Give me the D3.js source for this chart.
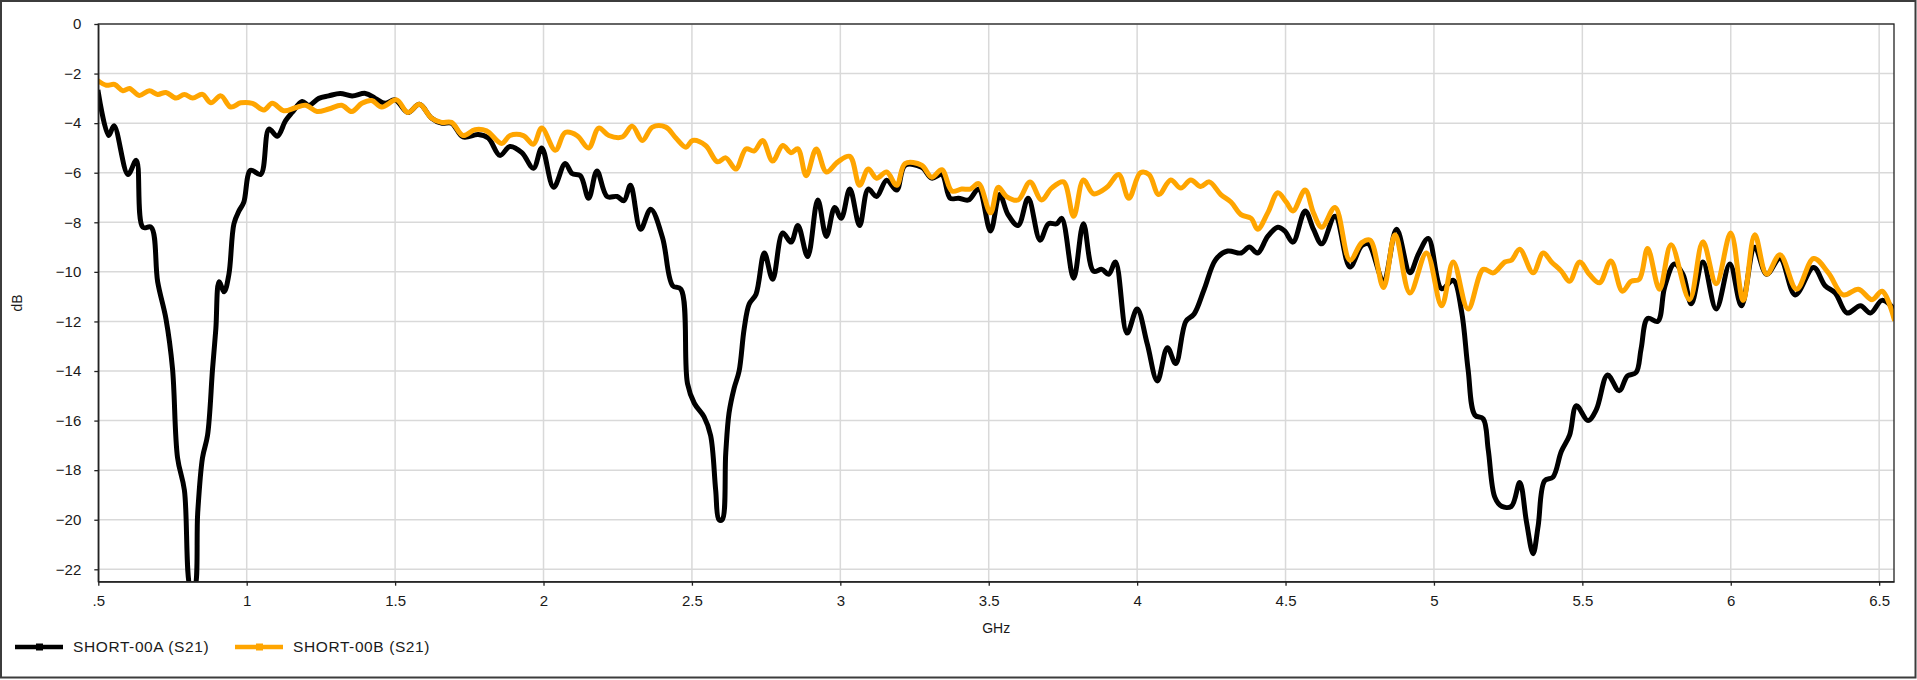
<!DOCTYPE html>
<html><head><meta charset="utf-8">
<script src="https://cdn.jsdelivr.net/npm/d3@7"></script>
<style>
html,body{margin:0;padding:0;background:#fff;}
svg{display:block;font-family:"Liberation Sans",Arial,sans-serif;}
</style></head>
<body>
<svg id="chart" width="1917" height="680"></svg>
<script>
// ---- data ----
const seriesNames = ["SHORT-00A (S21)", "SHORT-00B (S21)"];
const seriesColors = ["#000000", "#FFA500"];
const xTickValues = [0.5,1,1.5,2,2.5,3,3.5,4,4.5,5,5.5,6,6.5];
const xTickLabels = [".5","1","1.5","2","2.5","3","3.5","4","4.5","5","5.5","6","6.5"];
const yTickValues = [0,-2,-4,-6,-8,-10,-12,-14,-16,-18,-20,-22];
const xTitle = "GHz";
const yTitle = "dB";

const freqA = [0.5,0.535,0.553,0.6,0.628,0.65,0.678,0.70,0.728,0.75,0.767,0.79,0.812,0.823,0.835,0.851,0.868,0.885,0.896,0.907,0.924,0.94,0.957,0.974,0.99,1.013,1.047,1.075,1.103,1.131,1.153,1.187,1.209,1.243,1.276,1.315,1.355,1.4,1.433,1.466,1.5,1.543,1.582,1.622,1.656,1.69,1.729,1.78,1.814,1.853,1.887,1.927,1.966,1.994,2.034,2.073,2.096,2.124,2.152,2.18,2.214,2.248,2.271,2.293,2.327,2.361,2.401,2.435,2.463,2.485,2.508,2.541,2.563,2.58,2.591,2.602,2.614,2.625,2.642,2.659,2.676,2.693,2.716,2.744,2.772,2.806,2.834,2.857,2.89,2.924,2.953,2.981,3.003,3.032,3.065,3.094,3.122,3.156,3.19,3.218,3.274,3.308,3.342,3.37,3.398,3.432,3.466,3.506,3.537,3.565,3.599,3.633,3.673,3.701,3.729,3.746,3.786,3.819,3.853,3.881,3.904,3.927,3.966,4.0,4.034,4.068,4.102,4.13,4.164,4.192,4.226,4.265,4.305,4.35,4.378,4.406,4.44,4.474,4.497,4.525,4.566,4.594,4.622,4.667,4.717,4.757,4.779,4.83,4.874,4.919,4.947,4.981,5.026,5.065,5.093,5.115,5.138,5.166,5.183,5.205,5.228,5.261,5.289,5.312,5.334,5.351,5.373,5.401,5.429,5.457,5.48,5.519,5.547,5.585,5.624,5.652,5.681,5.698,5.72,5.754,5.777,5.81,5.839,5.867,5.906,5.951,5.997,6.036,6.081,6.121,6.166,6.217,6.279,6.318,6.352,6.392,6.437,6.471,6.51,6.55];
const dbA = [-2.76,-4.5,-4.1,-6.07,-5.5,-8.2,-8.2,-10.4,-11.9,-13.9,-17.5,-18.8,-22.8,-22.8,-19.7,-17.5,-16.6,-13.9,-12.3,-10.4,-10.8,-10.1,-8.06,-7.54,-7.2,-5.9,-6.07,-4.24,-4.53,-3.9,-3.57,-3.13,-3.28,-3.0,-2.9,-2.8,-2.9,-2.8,-3.0,-3.2,-3.06,-3.57,-3.24,-3.79,-4.0,-4.0,-4.56,-4.46,-4.6,-5.3,-4.94,-5.19,-5.82,-5.0,-6.59,-5.63,-6.03,-6.12,-7.03,-5.93,-6.96,-6.96,-7.13,-6.51,-8.28,-7.47,-8.62,-10.56,-10.7,-14.5,-15.3,-15.85,-16.6,-18.8,-20.0,-20.0,-17.3,-15.7,-14.7,-14.0,-12.3,-11.3,-10.9,-9.24,-10.3,-8.43,-8.8,-8.13,-9.38,-7.1,-8.57,-7.4,-7.84,-6.66,-8.13,-6.66,-6.96,-6.3,-6.7,-5.7,-5.78,-6.22,-6.07,-7.03,-7.03,-7.1,-6.66,-8.35,-6.88,-7.69,-8.13,-7.03,-8.72,-8.06,-8.06,-7.84,-10.26,-8.06,-9.97,-9.9,-10.1,-9.6,-12.47,-11.5,-12.9,-14.4,-13.06,-13.7,-12.0,-11.7,-10.7,-9.5,-9.16,-9.24,-9.0,-9.24,-8.57,-8.2,-8.35,-8.8,-7.54,-8.28,-8.87,-7.76,-9.8,-8.94,-8.87,-10.34,-8.28,-10.04,-9.3,-8.65,-10.68,-10.34,-11.59,-13.94,-15.78,-15.93,-17.18,-19.09,-19.46,-19.46,-18.5,-20.1,-21.37,-20.26,-18.43,-18.28,-17.25,-16.59,-15.4,-16.0,-15.56,-14.16,-14.8,-14.2,-14.06,-13.1,-11.88,-12.0,-10.63,-9.68,-10.1,-11.29,-9.6,-11.5,-9.68,-11.37,-9.01,-10.1,-9.46,-10.93,-9.82,-10.56,-10.85,-11.66,-11.37,-11.66,-11.15,-11.5];

const freqB = [0.5,0.527,0.555,0.583,0.605,0.638,0.672,0.70,0.728,0.762,0.79,0.818,0.851,0.879,0.913,0.946,0.98,1.019,1.058,1.086,1.125,1.164,1.198,1.237,1.276,1.32,1.354,1.388,1.421,1.455,1.505,1.543,1.582,1.622,1.656,1.69,1.729,1.769,1.808,1.859,1.887,1.932,1.966,1.994,2.04,2.073,2.113,2.152,2.186,2.22,2.265,2.299,2.333,2.367,2.412,2.446,2.48,2.502,2.546,2.586,2.614,2.648,2.682,2.71,2.738,2.772,2.806,2.834,2.857,2.885,2.919,2.953,2.992,3.032,3.065,3.094,3.122,3.156,3.19,3.218,3.274,3.308,3.342,3.376,3.409,3.438,3.466,3.506,3.532,3.56,3.599,3.639,3.678,3.712,3.752,3.786,3.819,3.853,3.898,3.938,3.972,4.011,4.04,4.073,4.113,4.147,4.181,4.214,4.243,4.282,4.316,4.35,4.384,4.406,4.44,4.474,4.502,4.525,4.566,4.594,4.622,4.667,4.717,4.757,4.785,4.83,4.869,4.919,4.975,5.026,5.065,5.115,5.166,5.2,5.239,5.261,5.289,5.334,5.368,5.396,5.429,5.457,5.491,5.525,5.558,5.596,5.635,5.664,5.692,5.72,5.76,5.799,5.861,5.906,5.951,6.0,6.042,6.081,6.121,6.166,6.222,6.279,6.329,6.379,6.43,6.476,6.51,6.55];
const dbB = [-2.3,-2.47,-2.44,-2.69,-2.6,-2.88,-2.69,-2.84,-2.76,-2.99,-2.84,-2.99,-2.84,-3.18,-2.9,-3.35,-3.18,-3.2,-3.47,-3.2,-3.5,-3.38,-3.28,-3.53,-3.43,-3.28,-3.53,-3.2,-3.09,-3.35,-3.06,-3.57,-3.24,-3.79,-3.97,-3.97,-4.5,-4.26,-4.31,-4.82,-4.5,-4.5,-4.85,-4.2,-5.09,-4.38,-4.5,-5.0,-4.2,-4.5,-4.56,-4.12,-4.7,-4.16,-4.16,-4.6,-4.97,-4.7,-4.9,-5.56,-5.4,-5.85,-5.04,-5.12,-4.7,-5.53,-4.9,-5.19,-5.04,-6.12,-5.04,-5.97,-5.56,-5.34,-6.51,-5.85,-6.22,-5.97,-6.51,-5.63,-5.7,-6.18,-5.88,-6.74,-6.66,-6.66,-6.44,-7.62,-6.59,-6.96,-7.1,-6.37,-7.1,-6.62,-6.37,-7.76,-6.29,-6.85,-6.59,-6.07,-7.03,-6.0,-6.07,-6.88,-6.29,-6.62,-6.29,-6.56,-6.37,-6.88,-7.18,-7.69,-7.84,-8.28,-7.62,-6.81,-7.18,-7.54,-6.7,-7.62,-8.2,-7.4,-9.53,-8.82,-8.72,-10.63,-8.5,-10.85,-9.24,-11.37,-9.6,-11.5,-9.9,-10.04,-9.6,-9.53,-9.09,-10.04,-9.24,-9.6,-9.97,-10.38,-9.6,-10.12,-10.44,-9.56,-10.78,-10.38,-10.3,-9.06,-10.7,-8.91,-11.12,-8.79,-10.48,-8.43,-11.15,-8.5,-10.09,-9.31,-10.7,-9.46,-10.04,-10.93,-10.7,-11.12,-10.78,-11.88];

// ---- layout ----
const W = 1917, H = 680;
const plot = {left: 98.3, top: 24, right: 1894, bottom: 581.7};
const svg = d3.select("#chart");

// outer frame
svg.append("rect").attr("x",1).attr("y",1).attr("width",W-2.5).attr("height",H-3.5)
  .attr("fill","#fff").attr("stroke","#3c3c3c").attr("stroke-width",2);

const x = d3.scaleLinear().domain([0.5, 6.55]).range([plot.left, plot.right]);
const y = d3.scaleLinear().domain([-22.5, 0]).range([plot.bottom, plot.top]);

// grid
const grid = svg.append("g");
grid.selectAll("line.h").data(yTickValues).enter().append("line")
  .attr("x1",plot.left).attr("x2",plot.right)
  .attr("y1",d=>y(d)).attr("y2",d=>y(d))
  .attr("stroke","#d9d9d9").attr("stroke-width",1.5);
grid.selectAll("line.v").data(xTickValues).enter().append("line")
  .attr("y1",plot.top).attr("y2",plot.bottom)
  .attr("x1",d=>x(d)).attr("x2",d=>x(d))
  .attr("stroke","#d9d9d9").attr("stroke-width",1.5);

// clip
svg.append("clipPath").attr("id","pc").append("rect")
  .attr("x",plot.left).attr("y",plot.top)
  .attr("width",plot.right-plot.left).attr("height",plot.bottom-plot.top);

const line = d3.line().x(d=>x(d[0])).y(d=>y(d[1])).curve(d3.curveCatmullRom.alpha(0.5));
const series = [d3.zip(freqA, dbA), d3.zip(freqB, dbB)];
const lines = svg.append("g").attr("clip-path","url(#pc)");
series.forEach((s,i)=>{
  lines.append("path").datum(s).attr("d",line)
    .attr("fill","none").attr("stroke",seriesColors[i])
    .attr("stroke-width",5).attr("stroke-linejoin","round").attr("stroke-linecap","square");
});

// frame of plot area
svg.append("rect").attr("x",plot.left).attr("y",plot.top)
  .attr("width",plot.right-plot.left).attr("height",plot.bottom-plot.top)
  .attr("fill","none").attr("stroke","#222").attr("stroke-width",1.3);

// axes
const xAxis = d3.axisBottom(x).tickValues(xTickValues)
  .tickFormat((d,i)=>xTickLabels[i]).tickSize(4).tickSizeOuter(0).tickPadding(10);
const gx = svg.append("g").attr("transform",`translate(0,${plot.bottom})`).call(xAxis);
const yAxis = d3.axisLeft(y).tickValues(yTickValues).tickSize(4).tickSizeOuter(0).tickPadding(13);
const gy = svg.append("g").attr("transform",`translate(${plot.left},0)`).call(yAxis);
[gx,gy].forEach(g=>{
  g.select(".domain").attr("stroke","#222").attr("stroke-width",1.3);
  g.selectAll(".tick line").attr("stroke","#222").attr("stroke-width",1.3);
  g.selectAll(".tick text").attr("fill","#1a1a1a")
    .style("font-family",'"Liberation Sans",Arial,sans-serif').style("font-size","15px");
});

// titles
svg.append("text").attr("x",(plot.left+plot.right)/2).attr("y",633)
  .attr("text-anchor","middle").attr("font-size","14px").attr("fill","#1a1a1a").text(xTitle);
svg.append("text").attr("transform",`translate(22,${(plot.top+plot.bottom)/2}) rotate(-90)`)
  .attr("text-anchor","middle").attr("font-size","14px").attr("fill","#1a1a1a").text(yTitle);

// legend
const legX = [15, 235];
const legY = 647;
seriesNames.forEach((n,i)=>{
  const g = svg.append("g");
  g.append("line").attr("x1",legX[i]).attr("x2",legX[i]+48).attr("y1",legY).attr("y2",legY)
    .attr("stroke",seriesColors[i]).attr("stroke-width",4.5);
  g.append("rect").attr("x",legX[i]+21).attr("y",legY-3.5).attr("width",7).attr("height",7)
    .attr("fill",seriesColors[i]);
  g.append("text").attr("x",legX[i]+58).attr("y",legY).attr("dy","0.35em")
    .attr("font-size","15.5px").attr("letter-spacing","0.6px").attr("fill","#1a1a1a").text(n);
});
</script>
</body></html>
